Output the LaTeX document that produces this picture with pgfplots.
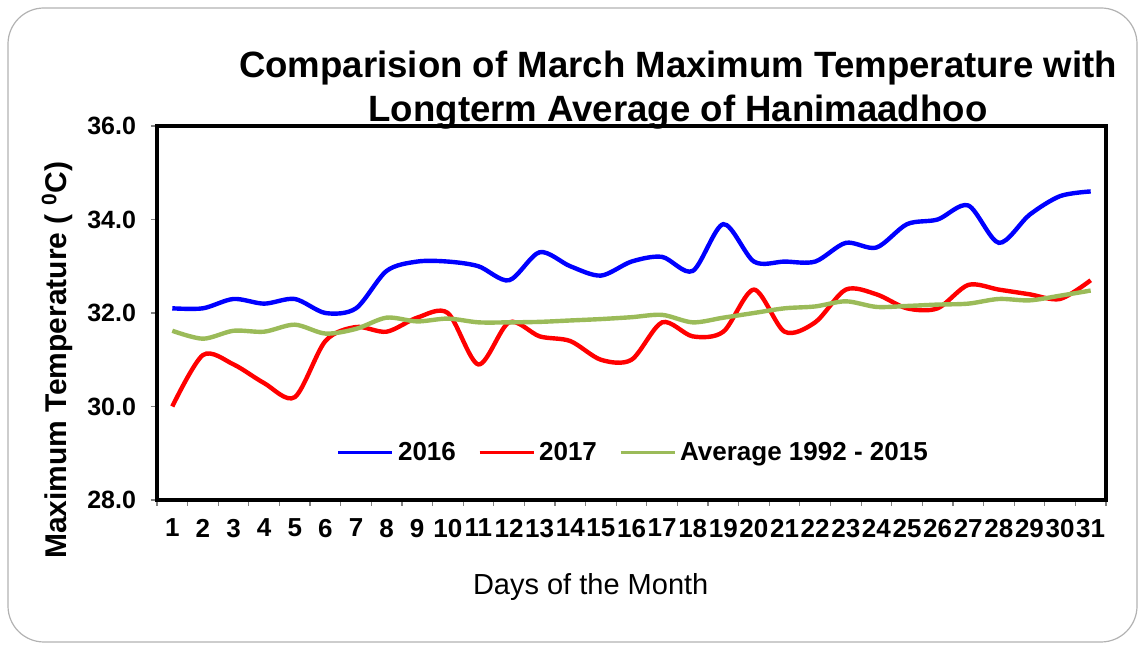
\documentclass[border=0pt]{standalone}
\usepackage{pgfplots}
\pgfplotsset{compat=1.18}
\usepackage{fontspec}
\setmainfont{Liberation Sans}
\definecolor{avggreen}{RGB}{155,187,89}
\begin{document}
\begin{tikzpicture}
\useasboundingbox (0,0) rectangle (570pt,323pt);
\draw[gray!60, line width=0.6pt, rounded corners=18pt] (4pt,2pt) rectangle (568.5pt,319pt);
\begin{axis}[
  at={(78.5pt,73pt)}, anchor=south west,
  scale only axis, width=474.5pt, height=187pt,
  xmin=0.5, xmax=31.5, ymin=28, ymax=36,
  axis line style={line width=2pt, black},
  xtick={0.5,1.5,...,31.5},
  x tick label as interval,
  xticklabels={1,2,3,4,5,6,7,8,9,10,11,12,13,14,15,16,17,18,19,20,21,22,23,24,25,26,27,28,29,30,31},
  ytick={28,30,32,34,36},
  xtick pos=left, ytick pos=left,
  yticklabel style={xshift=-4pt, /pgf/number format/.cd, fixed, fixed zerofill, precision=1},
  /pgf/number format/assume math mode=true,
  tick align=outside,
  major tick length=3pt,
  tick style={gray, line width=0.6pt},
  every tick label/.append style={font=\bfseries\fontsize{12.5}{14}\selectfont},
  xticklabel style={font=\bfseries\fontsize{13}{15}\selectfont, yshift=-3pt},
  xlabel={Days of the Month},
  xlabel style={font=\fontsize{14.5}{16}\selectfont, at={(axis description cs:0.457,-0.233)}, anchor=center},
  ylabel={\bfseries Maximum Temperature ( \textsuperscript{0}C)},
  ylabel style={font=\bfseries\fontsize{15}{17}\selectfont, at={(axis description cs:-0.105,0.374)}, anchor=center},
  legend style={at={(0.503,0.126)}, anchor=center, draw=none, fill=none,
    font=\bfseries\fontsize{13}{15}\selectfont, legend columns=3,
    /tikz/every even column/.append style={column sep=9pt}},
  legend image code/.code={\draw[#1, line width=1.6pt] (0pt,0pt) -- (27pt,0pt);},
]
\addplot[blue, line width=2.2pt, smooth] coordinates {
(1,32.1)(2,32.1)(3,32.3)(4,32.2)(5,32.3)(6,32.0)(7,32.1)(8,32.9)(9,33.1)(10,33.1)
(11,33.0)(12,32.7)(13,33.3)(14,33.0)(15,32.8)(16,33.1)(17,33.2)(18,32.9)(19,33.9)(20,33.1)
(21,33.1)(22,33.1)(23,33.5)(24,33.4)(25,33.9)(26,34.0)(27,34.3)(28,33.5)(29,34.1)(30,34.5)(31,34.6)};
\addlegendentry{2016}
\addplot[red, line width=2.2pt, smooth] coordinates {
(1,30.0)(2,31.1)(3,30.9)(4,30.5)(5,30.2)(6,31.4)(7,31.7)(8,31.6)(9,31.9)(10,32.0)
(11,30.9)(12,31.8)(13,31.5)(14,31.4)(15,31.0)(16,31.0)(17,31.8)(18,31.5)(19,31.6)(20,32.5)
(21,31.6)(22,31.8)(23,32.5)(24,32.4)(25,32.1)(26,32.1)(27,32.6)(28,32.5)(29,32.4)(30,32.3)(31,32.7)};
\addlegendentry{2017}
\addplot[avggreen, line width=2.2pt, smooth] coordinates {
(1,31.62)(2,31.45)(3,31.62)(4,31.6)(5,31.75)(6,31.56)(7,31.66)(8,31.9)(9,31.82)(10,31.88)
(11,31.8)(12,31.8)(13,31.81)(14,31.84)(15,31.87)(16,31.91)(17,31.96)(18,31.8)(19,31.9)(20,32.0)
(21,32.1)(22,32.14)(23,32.25)(24,32.13)(25,32.15)(26,32.18)(27,32.2)(28,32.3)(29,32.27)(30,32.37)(31,32.48)};
\addlegendentry{Average 1992 - 2015}
\end{axis}
\node[anchor=base, font=\bfseries\fontsize{18.3}{20}\selectfont] at (339pt,284pt) {Comparision of March Maximum Temperature with};
\node[anchor=base, font=\bfseries\fontsize{18.3}{20}\selectfont] at (339pt,262pt) {Longterm Average of Hanimaadhoo};
\end{tikzpicture}
\end{document}
